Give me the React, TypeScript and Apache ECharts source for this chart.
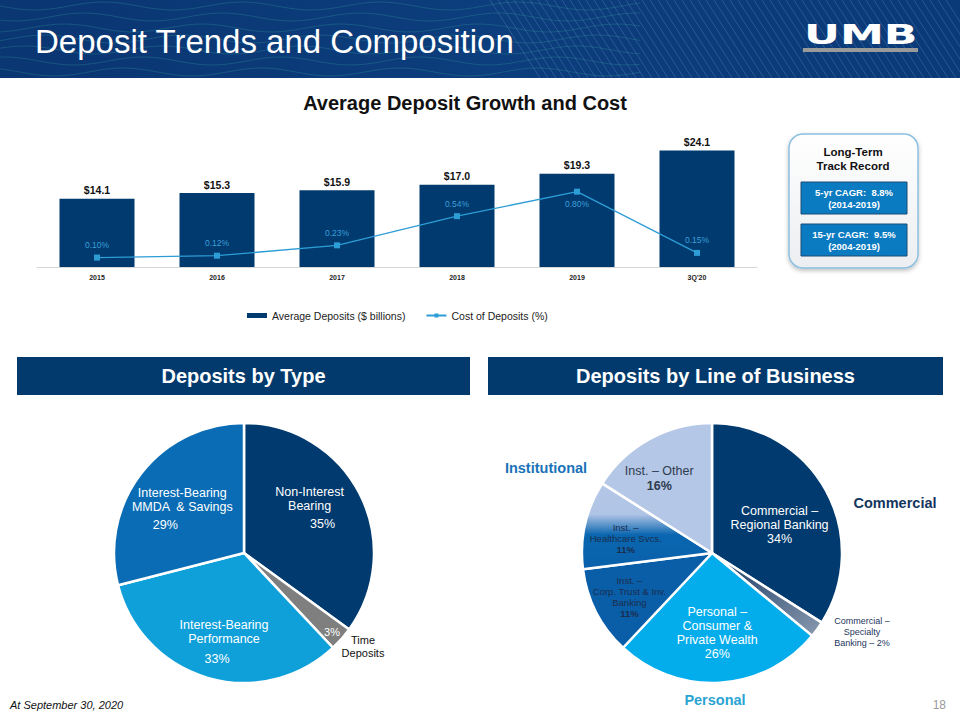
import React, { useEffect, useRef } from "react";
import * as echarts from "echarts";

// ---------- data ----------
const YEARS = ["2015", "2016", "2017", "2018", "2019", "3Q'20"];
const AVG_DEPOSITS = [14.1, 15.3, 15.9, 17.0, 19.3, 24.1];
const COST_OF_DEPOSITS = [0.1, 0.12, 0.23, 0.54, 0.8, 0.15];

const TYPE_NAMES = [
  "Non-Interest\nBearing",
  "Time Deposits",
  "Interest-Bearing\nPerformance",
  "Interest-Bearing\nMMDA  & Savings",
];
const TYPE_VALUES = [35, 3, 33, 29];

const LOB_NAMES = [
  "Commercial –\nRegional Banking",
  "Commercial –\nSpecialty\nBanking",
  "Personal –\nConsumer &\nPrivate Wealth",
  "Inst. –\nCorp. Trust & Inv.\nBanking",
  "Inst. –\nHealthcare Svcs.",
  "Inst. – Other",
];
const LOB_VALUES = [34, 2, 26, 11, 11, 16];

// ---------- styles ----------
const FONT = "'Liberation Sans', Arial, Helvetica, sans-serif";
const NAVY = "#003a6e";
const TYPE_COLORS = [NAVY, "#7f7f7f", "#0fa0da", "#0a6cb4"];
const LOB_COLORS: any[] = [
  NAVY,
  new echarts.graphic.LinearGradient(0, 0, 1, 1, [
    { offset: 0, color: "#14355e" },
    { offset: 1, color: "#8a9ab0" },
  ]),
  "#03adec",
  "#0a5ea8",
  new echarts.graphic.LinearGradient(0, 0, 0, 1, [
    { offset: 0, color: "#b4c7e7" },
    { offset: 0.36, color: "#b0c4e5" },
    { offset: 0.6, color: "#0a66b0" },
    { offset: 1, color: "#0a60aa" },
  ]),
  "#b4c7e7",
];
const TYPE_LABEL_SHIFT = [
  [5, -16],
  [37, 34],
  [-1, 21],
  [-8, -4],
];
const LOB_LABEL_SHIFT = [
  [8, 5],
  [95, 39],
  [1, 12],
  [-22, 13],
  [-20, 0],
  [-20, -15],
];

function buildHeader(): any[] {
  const els: any[] = [];
  els.push({
    type: "rect",
    shape: { x: 0, y: 0, width: 960, height: 78 },
    style: {
      fill: new echarts.graphic.LinearGradient(0, 0, 1, 0, [
        { offset: 0, color: "#0a3672" },
        { offset: 0.5, color: "#0c3d7c" },
        { offset: 1, color: "#0b3a78" },
      ]),
    },
    z: 0,
  });
  // decorative waves
  for (let k = 0; k < 7; k++) {
    const pts: number[][] = [];
    for (let x = 0; x <= 640; x += 8) {
      pts.push([x, 6 + k * 11 + 4 * Math.sin(x / 22 + k * 0.9)]);
    }
    els.push({
      type: "polyline",
      shape: { points: pts },
      style: { stroke: "rgba(70,190,170,0.22)", lineWidth: 1, fill: null },
      z: 1,
    });
  }
  // decorative diagonal stripes
  for (let x = 540; x <= 1000; x += 8) {
    els.push({
      type: "line",
      shape: { x1: x - 50, y1: 0, x2: x, y2: 78 },
      style: { stroke: "rgba(150,190,235,0.22)", lineWidth: 1 },
      z: 1,
    });
  }
  els.push({
    type: "text",
    x: 35,
    y: 41,
    style: {
      text: "Deposit Trends and Composition",
      fill: "#ffffff",
      fontSize: 33,
      fontFamily: FONT,
      textVerticalAlign: "middle",
    },
    z: 2,
  });
  // UMB logo
  els.push({
    type: "text",
    x: 804,
    y: 35,
    scaleX: 1.7,
    style: {
      text: "UMB",
      fill: "#ffffff",
      fontSize: 26,
      fontWeight: 900,
      fontFamily: "'DejaVu Sans', sans-serif",
      textVerticalAlign: "middle",
    },
    z: 2,
  });
  els.push({
    type: "rect",
    shape: { x: 803, y: 48, width: 115, height: 4 },
    style: { fill: "#9a9a9a" },
    z: 2,
  });
  return els;
}

function buildAnnotations(): any[] {
  const els: any[] = [];
  els.push({
    type: "text",
    x: 465,
    y: 103,
    style: {
      text: "Average Deposit Growth and Cost",
      fill: "#111",
      fontSize: 20,
      fontWeight: "bold",
      fontFamily: FONT,
      textAlign: "center",
      textVerticalAlign: "middle",
    },
  });
  // long-term box
  els.push({
    type: "rect",
    shape: { x: 789, y: 134, width: 129, height: 134, r: 14 },
    style: {
      fill: new echarts.graphic.LinearGradient(0, 0, 0, 1, [
        { offset: 0, color: "#ffffff" },
        { offset: 1, color: "#eceef1" },
      ]),
      stroke: "#8cc0e0",
      lineWidth: 1.5,
      shadowBlur: 4,
      shadowOffsetY: 2,
      shadowColor: "rgba(0,0,0,0.25)",
    },
  });
  els.push({
    type: "text",
    x: 853,
    y: 159,
    style: {
      text: "Long-Term\nTrack Record",
      fill: "#111",
      fontSize: 11.5,
      fontWeight: "bold",
      lineHeight: 14,
      fontFamily: FONT,
      textAlign: "center",
      textVerticalAlign: "middle",
    },
  });
  const boxes = [
    { y: 182, t: "5-yr CAGR:  8.8%\n(2014-2019)" },
    { y: 224, t: "15-yr CAGR:  9.5%\n(2004-2019)" },
  ];
  boxes.forEach((b) => {
    els.push({
      type: "rect",
      shape: { x: 801, y: b.y, width: 106, height: 32 },
      style: { fill: "#0b7bc1", stroke: "#1d4b73", lineWidth: 1 },
    });
    els.push({
      type: "text",
      x: 854,
      y: b.y + 16,
      style: {
        text: b.t,
        fill: "#fff",
        fontSize: 9.5,
        fontWeight: "bold",
        lineHeight: 12,
        fontFamily: FONT,
        textAlign: "center",
        textVerticalAlign: "middle",
      },
    });
  });
  // section headers
  const heads = [
    { x: 17, w: 453, t: "Deposits by Type" },
    { x: 488, w: 455, t: "Deposits by Line of Business" },
  ];
  heads.forEach((h) => {
    els.push({
      type: "rect",
      shape: { x: h.x, y: 357, width: h.w, height: 38 },
      style: { fill: "#023a6d" },
    });
    els.push({
      type: "text",
      x: h.x + h.w / 2,
      y: 376,
      style: {
        text: h.t,
        fill: "#fff",
        fontSize: 20,
        fontWeight: "bold",
        fontFamily: FONT,
        textAlign: "center",
        textVerticalAlign: "middle",
      },
    });
  });
  // time deposits outer label
  els.push({
    type: "text",
    x: 363,
    y: 646,
    style: {
      text: "Time\nDeposits",
      fill: "#111",
      fontSize: 11,
      lineHeight: 13,
      fontFamily: FONT,
      textAlign: "center",
      textVerticalAlign: "middle",
    },
  });
  // group labels
  const groups = [
    { x: 546, y: 468, t: "Institutional", c: "#1a72b8" },
    { x: 895, y: 503, t: "Commercial", c: "#14355e" },
    { x: 715, y: 700, t: "Personal", c: "#2aa4d2" },
  ];
  groups.forEach((g) => {
    els.push({
      type: "text",
      x: g.x,
      y: g.y,
      style: {
        text: g.t,
        fill: g.c,
        fontSize: 14.5,
        fontWeight: "bold",
        fontFamily: FONT,
        textAlign: "center",
        textVerticalAlign: "middle",
      },
    });
  });
  // footer
  els.push({
    type: "text",
    x: 10,
    y: 705,
    style: {
      text: "At September 30, 2020",
      fill: "#111",
      fontSize: 11,
      fontStyle: "italic",
      fontFamily: FONT,
      textVerticalAlign: "middle",
    },
  });
  els.push({
    type: "text",
    x: 946,
    y: 705,
    style: {
      text: "18",
      fill: "#9a9a9a",
      fontSize: 12,
      fontFamily: FONT,
      textAlign: "right",
      textVerticalAlign: "middle",
    },
  });
  return els;
}

function buildOption(): any {
  const maxCost = Math.max(...COST_OF_DEPOSITS);
  return {
    animation: false,
    textStyle: { fontFamily: FONT },
    graphic: { elements: [...buildHeader(), ...buildAnnotations()] },
    legend: {
      left: 242,
      top: 305,
      itemWidth: 20,
      itemHeight: 5,
      itemGap: 20,
      textStyle: { fontSize: 10.5, color: "#222", fontFamily: FONT },
      data: [
        { name: "Average Deposits ($ billions)", icon: "rect" },
        { name: "Cost of Deposits (%)" },
      ],
    },
    grid: { left: 37, right: 203, top: 122, bottom: 453, containLabel: false },
    xAxis: {
      type: "category",
      data: YEARS,
      axisLine: { show: true, lineStyle: { color: "#d6d6d6", width: 1 } },
      axisTick: { show: false },
      axisLabel: {
        fontSize: 7,
        fontWeight: "bold",
        color: "#222",
        margin: 7,
        fontFamily: FONT,
      },
    },
    yAxis: [
      { type: "value", min: 0, max: 30, show: false, splitLine: { show: false } },
      { type: "value", min: 0, max: 1.54, show: false, splitLine: { show: false } },
    ],
    series: [
      {
        name: "Average Deposits ($ billions)",
        type: "bar",
        data: AVG_DEPOSITS,
        barWidth: "62.5%",
        itemStyle: { color: NAVY },
        label: {
          show: true,
          position: "top",
          distance: 3,
          fontSize: 10.5,
          fontWeight: "bold",
          color: "#111",
          formatter: (p: any) => "$" + p.value.toFixed(1),
        },
        z: 2,
      },
      {
        name: "Cost of Deposits (%)",
        type: "line",
        yAxisIndex: 1,
        data: COST_OF_DEPOSITS.map((v) =>
          v === maxCost ? { value: v, label: { position: "bottom", distance: 5 } } : v
        ),
        symbol: "rect",
        symbolSize: 6,
        lineStyle: { color: "#2d9dd6", width: 1.3 },
        itemStyle: { color: "#2d9dd6" },
        label: {
          show: true,
          position: "top",
          distance: 5,
          fontSize: 8.5,
          color: "#3d9fd8",
          formatter: (p: any) => p.value.toFixed(2) + "%",
        },
        z: 3,
      },
      {
        name: "Deposits by Type",
        type: "pie",
        center: [244, 553],
        radius: [0, 130],
        startAngle: 90,
        clockwise: true,
        legendHoverLink: false,
        data: TYPE_NAMES.map((n, i) => ({
          name: n,
          value: TYPE_VALUES[i],
          itemStyle: { color: TYPE_COLORS[i] },
        })),
        itemStyle: { borderColor: "#fff", borderWidth: 2.5 },
        labelLine: { show: false },
        label: {
          show: true,
          position: "inside",
          color: "#fff",
          formatter: (p: any) =>
            p.dataIndex === 1
              ? `{s|${p.value}%}`
              : `{n|${p.name}}\n{p${p.dataIndex}|${p.value}%}`,
          rich: {
            n: { fontSize: 12.5, lineHeight: 14, color: "#fff", fontFamily: FONT },
            s: { fontSize: 11, lineHeight: 13, color: "#fff", fontFamily: FONT },
            p0: { fontSize: 12.5, lineHeight: 14, color: "#fff", padding: [8, 0, 0, 26] },
            p2: { fontSize: 12.5, lineHeight: 14, color: "#fff", padding: [11, 14, 0, 0] },
            p3: { fontSize: 12.5, lineHeight: 14, color: "#fff", padding: [8, 34, 0, 0] },
          },
        },
        labelLayout: (p: any) => {
          const s = TYPE_LABEL_SHIFT[p.dataIndex] || [0, 0];
          return { dx: s[0], dy: s[1] };
        },
      },
      {
        name: "Deposits by Line of Business",
        type: "pie",
        center: [712, 553],
        radius: [0, 130],
        startAngle: 90,
        clockwise: true,
        data: LOB_NAMES.map((n, i) => ({
          name: n,
          value: LOB_VALUES[i],
          itemStyle: { color: LOB_COLORS[i] },
        })),
        itemStyle: { borderColor: "#fff", borderWidth: 2.5 },
        labelLine: { show: false },
        label: {
          show: true,
          position: "inside",
          formatter: (p: any) => {
            const i = p.dataIndex;
            if (i === 0 || i === 2) return `{w|${p.name}\n${p.value}%}`;
            if (i === 1) return `{sp|${p.name} – ${p.value}%}`;
            if (i === 5) return `{o|${p.name}}\n{ob|${p.value}%}`;
            return `{i|${p.name}}\n{ib|${p.value}%}`;
          },
          rich: {
            w: { fontSize: 12.5, lineHeight: 14, color: "#fff", fontFamily: FONT },
            sp: { fontSize: 9, lineHeight: 11, color: "#1b365d", fontFamily: FONT },
            i: { fontSize: 9.5, lineHeight: 11, color: "#1a2d4c", fontFamily: FONT },
            ib: { fontSize: 9.5, lineHeight: 11, color: "#1a2d4c", fontWeight: "bold", fontFamily: FONT },
            o: { fontSize: 12.5, lineHeight: 15, color: "#2f3b4d", fontFamily: FONT },
            ob: { fontSize: 12.5, lineHeight: 15, color: "#2f3b4d", fontWeight: "bold", fontFamily: FONT },
          },
        },
        labelLayout: (p: any) => {
          const s = LOB_LABEL_SHIFT[p.dataIndex] || [0, 0];
          return { dx: s[0], dy: s[1] };
        },
      },
    ],
  };
}

export default function App() {
  const ref = useRef<HTMLDivElement>(null);
  useEffect(() => {
    if (!ref.current) return;
    const chart = echarts.init(ref.current, null, { renderer: "svg" });
    chart.setOption(buildOption());
    return () => chart.dispose();
  }, []);
  return (
    <div
      ref={ref}
      style={{ position: "fixed", left: 0, top: 0, width: 960, height: 720, background: "#ffffff" }}
    />
  );
}
